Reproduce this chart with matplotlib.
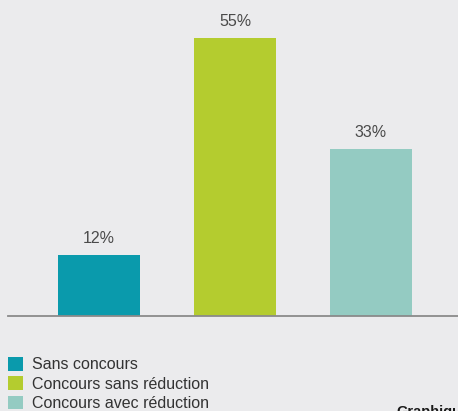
import matplotlib
matplotlib.use("Agg")
import matplotlib.pyplot as plt

categories = ["Sans concours", "Concours sans réduction", "Concours avec réduction"]
values = [12, 55, 33]
colors = ["#0a9aac", "#b4cc2f", "#94cbc2"]
footer = "Graphique"

plt.rcParams["font.family"] = ["Liberation Sans", "DejaVu Sans"]

W, H = 458, 411
bg = "#ebebed"
fig = plt.figure(figsize=(W / 100, H / 100), dpi=100, facecolor=bg)

base_px = 315.5
ax = fig.add_axes([8 / W, 1 - base_px / H, 1 - 8 / W, base_px / H])
ax.set_facecolor(bg)

x = range(len(values))
bw = 82 / 136
bars = ax.bar(x, values, width=bw, color=colors, zorder=2)
for b, v in zip(bars, values):
    ax.annotate(f"{v}%", (b.get_x() + b.get_width() / 2, v), xytext=(0, 6.5),
                textcoords="offset points", ha="center", va="bottom",
                fontsize=11.5, color="#4a4a4a")

unit = 136
ax.set_xlim(-(99 - 8) / unit, (458 - 99) / unit)
ax.set_ylim(0, base_px / (277.5 / 55))
for s in ["top", "right", "left"]:
    ax.spines[s].set_visible(False)
ax.spines["bottom"].set_color("#8a8a8a")
ax.spines["bottom"].set_linewidth(1.3)
ax.set_xticks([])
ax.set_yticks([])

leg = fig.legend(bars, categories, loc="upper left",
                 bbox_to_anchor=(3.5 / W, 1 - 352 / H), frameon=False,
                 fontsize=11.5, handlelength=0.9, handleheight=0.95,
                 handletextpad=0.6, labelspacing=0.25, borderaxespad=0,
                 borderpad=0.3)
for t in leg.get_texts():
    t.set_color("#333333")

fig.text(396 / W, 1 - 405 / H, footer, ha="left", va="top",
         fontsize=10.5, fontweight="bold", color="#1a1a1a")

fig.savefig("out.png", dpi=100, facecolor=bg)
